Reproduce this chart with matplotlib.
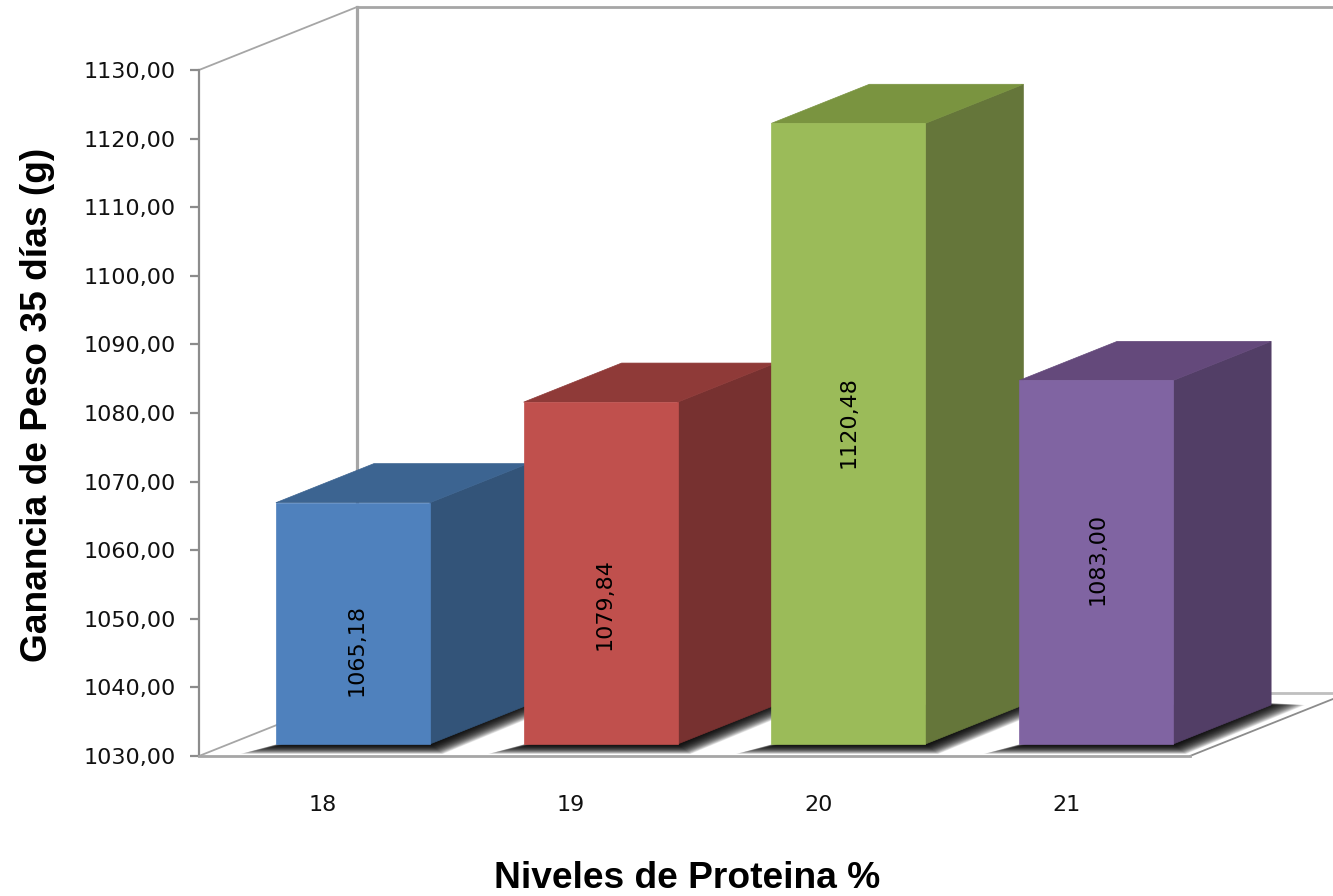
import matplotlib
matplotlib.use("Agg")
import matplotlib.pyplot as plt
from matplotlib.patches import Polygon
from matplotlib.ticker import FuncFormatter

niveles = ["18", "19", "20", "21"]
ganancia = [1065.18, 1079.84, 1120.48, 1083.00]
etiquetas = ["1065,18", "1079,84", "1120,48", "1083,00"]
altura_etiqueta = [1045.4, 1052.2, 1078.7, 1058.7]
corrimiento_etiqueta = [4, 4, 0, 1]

color_frente = ["#4F81BD", "#C0504D", "#9BBB59", "#8064A2"]
color_lado = ["#335479", "#773130", "#65763A", "#523E66"]
color_arriba = ["#3C6491", "#8F3A38", "#7A9440", "#64497B"]

# Escala del eje: pixeles por unidad de datos
PX_X = 247.75
PX_Y = 6.86

# Proyeccion oblicua de la profundidad (en unidades de datos)
PROF_X = 158 / PX_X
PROF_Y = 63 / PX_Y
FRENTE = 0.19
FONDO = 0.81
ANCHO = 154 / PX_X
BASE = 1030


def proy(x, y, d):
    """Proyecta un punto (x, y) a la profundidad d."""
    return (x + PROF_X * d, y + PROF_Y * d)


def sombra(ax, x0, x1):
    """Sombra difusa sobre el piso, hecha con capas translucidas."""
    capas = 40
    for k in range(capas):
        t = 1 - k / (capas - 1)
        izq = (42 * t - 6) / PX_X
        der = (12 * t + 1) / PX_X
        baja = (9 * t + 1) / PX_Y
        punta = (34 * t) / PX_X
        pts = [
            proy(x0 - izq, BASE - baja, FRENTE),
            proy(x1 + der, BASE - baja, FRENTE),
            proy(x1 + punta, BASE + (2 - 2 * t) / PX_Y, FONDO),
            proy(x0 + 0.2, BASE, FONDO),
        ]
        ax.add_patch(Polygon(pts, closed=True, fc="black", ec="none", alpha=0.055,
                             zorder=2, clip_on=False))


def barra(ax, i, valor):
    x0 = i + 0.5 - ANCHO / 2
    x1 = i + 0.5 + ANCHO / 2
    sombra(ax, x0, x1)
    z = 3 + i
    lado = [proy(x1, BASE, FRENTE), proy(x1, BASE, FONDO),
            proy(x1, valor, FONDO), proy(x1, valor, FRENTE)]
    arriba = [proy(x0, valor, FRENTE), proy(x1, valor, FRENTE),
              proy(x1, valor, FONDO), proy(x0, valor, FONDO)]
    ax.add_patch(Polygon(lado, closed=True, fc=color_lado[i], ec=color_lado[i], lw=0.5,
                         zorder=z, clip_on=False))
    ax.add_patch(Polygon(arriba, closed=True, fc=color_arriba[i], ec=color_arriba[i], lw=0.5,
                         zorder=z, clip_on=False))
    # La cara frontal es una barra normal desplazada hacia el frente
    xc, yb = proy(i + 0.5, BASE, FRENTE)
    ax.bar(xc, valor - BASE, width=ANCHO, bottom=yb, color=color_frente[i], zorder=z,
           clip_on=False, edgecolor=color_frente[i], linewidth=0.5)


fig = plt.figure(figsize=(13.33, 8.96), dpi=100)
ax = fig.add_axes([199 / 1333, 140 / 896, 991 / 1333, 686 / 896])
ax.set_xlim(0, 4)
ax.set_ylim(1030, 1130)

gris = "#A6A6A6"
gris_osc = "#8C8C8C"

# Paredes y piso
ax.plot([PROF_X, PROF_X], [1130 + PROF_Y, BASE + PROF_Y], color=gris, lw=2.3, zorder=1, clip_on=False)
ax.plot([PROF_X, 4 + PROF_X], [1130 + PROF_Y, 1130 + PROF_Y], color=gris, lw=2.0,
        zorder=1, clip_on=False)
ax.plot([PROF_X, 4 + PROF_X], [BASE + PROF_Y, BASE + PROF_Y], color="#BFBFBF", lw=2.0,
        zorder=1, clip_on=False)
ax.plot([0, PROF_X], [1130, 1130 + PROF_Y], color=gris, lw=1.3, zorder=1, clip_on=False)
ax.plot([0, PROF_X], [BASE, BASE + PROF_Y], color=gris, lw=1.3, zorder=1, clip_on=False)
ax.plot([4, 4 + PROF_X], [BASE, BASE + PROF_Y], color=gris_osc, lw=1.3, zorder=9, clip_on=False)

for i, v in enumerate(ganancia):
    barra(ax, i, v)

for i, texto in enumerate(etiquetas):
    xt = proy(i + 0.5, BASE, FRENTE)[0] + corrimiento_etiqueta[i] / PX_X
    ax.text(xt, altura_etiqueta[i], texto, rotation=90, ha="center", va="center",
            fontsize=16, color="black", zorder=20)

# Ejes
for lado in ["top", "right"]:
    ax.spines[lado].set_visible(False)
ax.spines["left"].set_color(gris_osc)
ax.spines["left"].set_linewidth(1.6)
ax.spines["bottom"].set_color(gris)
ax.spines["bottom"].set_linewidth(2.0)
ax.spines["bottom"].set_zorder(10)

ax.set_yticks(range(1030, 1131, 10))
ax.yaxis.set_major_formatter(FuncFormatter(lambda v, _: f"{v:.2f}".replace(".", ",")))
ax.tick_params(axis="y", length=6.5, width=1.6, color=gris_osc, labelsize=16,
               labelcolor="#111111", pad=10)
ax.set_xticks([i + 0.5 for i in range(len(niveles))])
ax.set_xticklabels(niveles)
ax.tick_params(axis="x", length=0, labelsize=16, labelcolor="#111111", pad=28)

fig.text(687 / 1333, (896 - 878) / 896, "Niveles de Proteina %", ha="center",
         va="center", family="Liberation Sans", fontweight="bold", fontsize=26.7)
fig.text(38 / 1333, (896 - 405) / 896, "Ganancia de Peso 35 días (g)", rotation=90, ha="center",
         va="center", family="Liberation Sans", fontweight="bold", fontsize=26.7)

fig.savefig("out.png", dpi=100, facecolor="white")
